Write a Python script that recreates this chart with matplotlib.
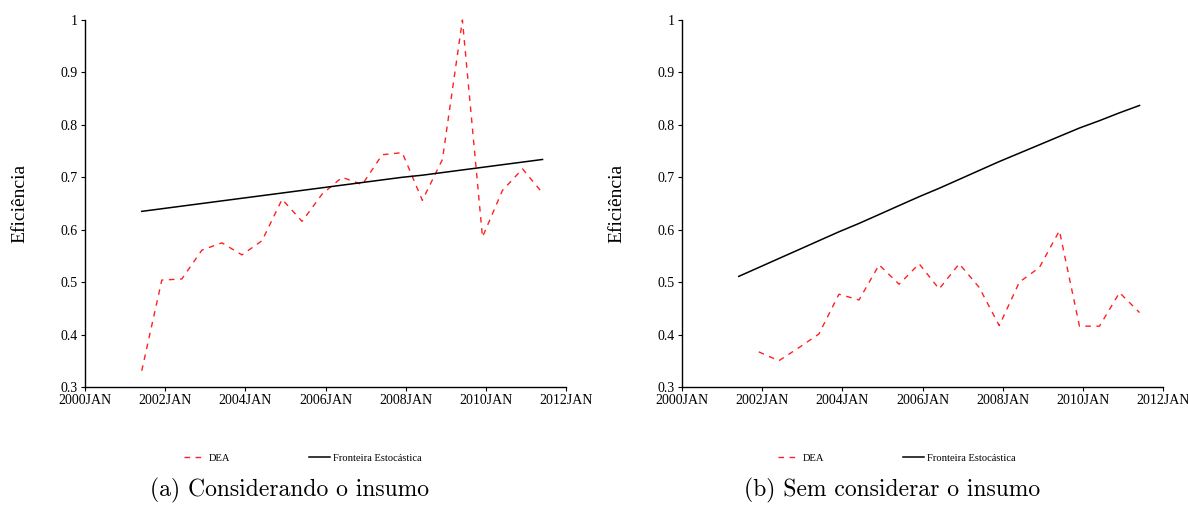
import matplotlib
matplotlib.use("Agg")
import matplotlib.pyplot as plt
import matplotlib.dates as mdates
from matplotlib.ticker import FormatStrFormatter
from datetime import datetime

plt.rcParams['font.family'] = ['Liberation Serif', 'DejaVu Serif']

# semi-annual dates, June / December
dates_a = [datetime(y, m, 1) for y in range(2001, 2012) for m in (6, 12)][:21]
dates_b_dea = dates_a[1:]

# (a) considerando o insumo
dea_a = [0.331, 0.504, 0.506, 0.561, 0.575, 0.552, 0.579, 0.658, 0.616, 0.668, 0.700,
         0.686, 0.743, 0.747, 0.656, 0.734, 1.000, 0.586, 0.675, 0.716, 0.670]
sfa_a = [0.635, 0.640, 0.645, 0.650, 0.655, 0.660, 0.665, 0.670, 0.675, 0.680, 0.685,
         0.690, 0.695, 0.700, 0.704, 0.709, 0.714, 0.719, 0.724, 0.729, 0.734]

# (b) sem considerar o insumo
dea_b = [0.367, 0.350, 0.375, 0.401, 0.477, 0.466, 0.533, 0.496, 0.535, 0.487,
         0.535, 0.490, 0.417, 0.500, 0.528, 0.598, 0.416, 0.416, 0.480, 0.442]
sfa_b = [0.511, 0.528, 0.545, 0.562, 0.579, 0.596, 0.612, 0.629, 0.646, 0.663, 0.679,
         0.696, 0.713, 0.730, 0.746, 0.762, 0.778, 0.794, 0.808, 0.823, 0.837]

yticks = [0.3, 0.4, 0.5, 0.6, 0.7, 0.8, 0.9, 1.0]
xticks = [datetime(y, 1, 1) for y in range(2000, 2013, 2)]
captions = ["(a) Considerando o insumo", "(b) Sem considerar o insumo"]

fig = plt.figure(figsize=(11.88, 5.05), dpi=100)
W, H = 1188.0, 505.0
panels = [
    (85, dates_a, dea_a, dates_a, sfa_a, 303, 290),
    (682, dates_b_dea, dea_b, dates_a, sfa_b, 897, 892),
]

for i, (x0, d1, v1, d2, v2, legx, capx) in enumerate(panels):
    ax = fig.add_axes([x0 / W, (H - 387) / H, 481 / W, 367 / H])
    l1, = ax.plot(d1, v1, color='#ff2020', lw=1.0, linestyle=(0, (4, 4)),
                  clip_on=False, label='DEA')
    l2, = ax.plot(d2, v2, color='black', lw=1.1, clip_on=False,
                  label='Fronteira Estocástica')
    ax.set_xlim(datetime(2000, 1, 1), datetime(2012, 1, 1))
    ax.set_ylim(0.3, 1.0)
    ax.set_xticks(xticks)
    ax.xaxis.set_major_formatter(mdates.DateFormatter('%YJAN'))
    ax.set_yticks(yticks)
    ax.yaxis.set_major_formatter(FormatStrFormatter('%g'))
    for s in ('top', 'right'):
        ax.spines[s].set_visible(False)
    for s in ('left', 'bottom'):
        ax.spines[s].set_linewidth(1.0)
    ax.tick_params(axis='both', labelsize=10, length=3, width=0.8, pad=2)
    ax.set_ylabel('Eficiência', fontsize=14)
    ax.yaxis.set_label_coords(-0.118, 0.5)

    fig.legend(handles=[l1, l2], loc='center', bbox_to_anchor=(legx / W, 1 - 458 / H),
               ncol=2, frameon=False, fontsize=7.6, handlelength=2.0,
               handletextpad=0.3, columnspacing=7.5)
    fig.text(capx / W, 1 - 490 / H, captions[i], ha='center', va='center',
             fontsize=17, family=['cmr10', 'DejaVu Serif'])

fig.savefig('out.png', dpi=100)
